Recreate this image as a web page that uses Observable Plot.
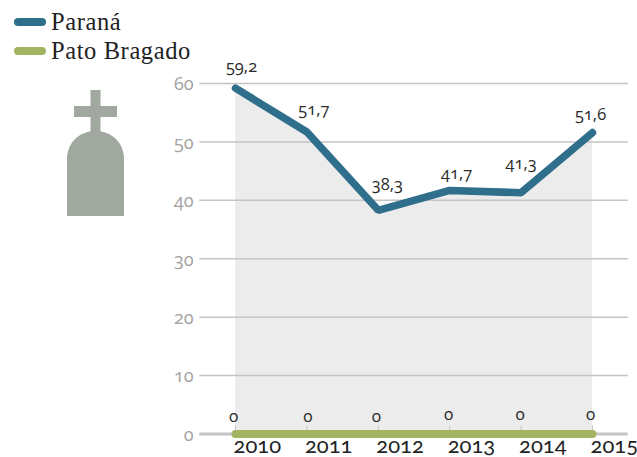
<!DOCTYPE html>
<html><head><meta charset="utf-8">
<script src="https://cdn.jsdelivr.net/npm/d3@7"></script>
<script src="https://cdn.jsdelivr.net/npm/@observablehq/plot@0.6"></script>
<style>
html,body{margin:0;padding:0;background:#fff}
#wrap{position:relative;width:637px;height:457px;overflow:hidden}
#wrap svg{display:block}
.lg{position:absolute;left:14px;display:flex;align-items:center;font:24.5px "Liberation Serif",serif;color:#222;letter-spacing:.6px;white-space:nowrap}
.lg i{display:block;width:32px;height:8px;border-radius:4px;margin-right:5px}
</style></head><body><div id="wrap"></div>
<script>
const years=[2010,2011,2012,2013,2014,2015];
const parana=[59.2,51.7,38.3,41.7,41.3,51.6];
const patoBragado=[0,0,0,0,0,0];
const yTicks=[0,10,20,30,40,50,60];
const seriesNames=["Paraná","Pato Bragado"];
const seriesColors=["#2f6f8c","#a3b562"];

const comma=v=>String(v).replace(".",",");
const pr=years.map((x,i)=>({x,y:parana[i]}));
const pb=years.map((x,i)=>({x,y:patoBragado[i]}));
const nudgeP=[[6,-21],[7,-22],[9,-26],[7,-17],[0,-29],[-2,-18]];
const nudgeB=[[-2,-17],[1,-17],[-2,-17],[-1,-19],[-1,-19],[-2,-19]];
const numFont='"Open Sans",sans-serif';
const tomb=()=>{
  const s=d3.create("svg:g").attr("fill","#a0a89f");
  s.append("path").attr("d","M67 216V159C67 143 79 131 95.500 131C112 131 124 143 124 159V216Z");
  s.append("rect").attr("x",90.500).attr("y",90).attr("width",10).attr("height",42);
  s.append("rect").attr("x",74).attr("y",106).attr("width",43).attr("height",11);
  return s.node();
};
const label=(d,n,color,size)=>d.map((p,i)=>Plot.text([p],{x:"x",y:"y",text:q=>comma(q.y),dx:n[i][0],dy:n[i][1],fill:color,fontSize:size,fontFamily:numFont}));

const chart=Plot.plot({
  width:637,height:457,
  marginLeft:235,marginRight:45,marginTop:83,marginBottom:23.5,
  x:{domain:[2010,2015],axis:null},
  y:{domain:[0,60],axis:null},
  style:{background:"transparent",fontFeatureSettings:'"onum"'},
  marks:[
    Plot.areaY(pr,{x:"x",y:"y",fill:"#ececec"}),
    Plot.ruleY(yTicks.filter(d=>d>0),{x1:2009.5,x2:2015.5,stroke:"#c4c4c4",strokeWidth:1.5}),
    Plot.ruleY([0],{x1:2009.5,x2:2015.5,stroke:"#c4c4c6",strokeWidth:3}),
    Plot.ruleX(years,{y1:0,y2:1.4,stroke:"#c4c4c4",strokeWidth:1}),
    Plot.text(yTicks,{x:()=>2010,y:d=>d,text:d=>String(d),textAnchor:"end",dx:-42,dy:1,fill:"#a2a2a2",fontSize:18,fontFamily:numFont}),
    Plot.line(pb,{x:"x",y:"y",stroke:seriesColors[1],strokeWidth:8,strokeLinecap:"round"}),
    Plot.line(pr,{x:"x",y:"y",stroke:seriesColors[0],strokeWidth:7.500,strokeLinecap:"round",strokeLinejoin:"miter"}),
    Plot.text(years,{x:d=>d,y:()=>0,text:d=>String(d),textAnchor:"start",lineAnchor:"bottom",dx:-2,dy:19,fill:"#222",fontSize:22,fontFamily:"Lato,sans-serif"}),
    ...label(pr,nudgeP,"#2a2a2a",16.500),
    ...label(pb,nudgeB,"#2a2a2a",17),
    tomb
  ]
});
const w=document.getElementById("wrap");
w.appendChild(chart);
seriesNames.forEach((n,i)=>{
  const d=document.createElement("div");d.className="lg";d.style.top=(i?37:8)+"px";
  const sw=document.createElement("i");sw.style.background=seriesColors[i];
  d.appendChild(sw);d.appendChild(document.createTextNode(n));w.appendChild(d);
});
</script></body></html>
